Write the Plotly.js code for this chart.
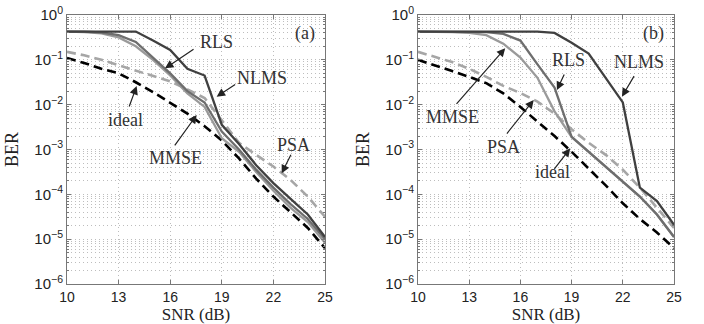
<!DOCTYPE html>
<html>
<head>
<meta charset="utf-8">
<script src="https://cdn.plot.ly/plotly-3.0.1.min.js"></script>
<style>html,body{margin:0;padding:0;background:#fff;}#chart{width:704px;height:324px;}</style>
</head>
<body>
<div id="chart"></div>
<script>
// ---- data ----
const snr = [10,11,12,13,14,15,16,17,18,19,20,21,22,23,24,25];
const xTicks = [10,13,16,19,22,25];
const yTickVals = [1e-6,1e-5,1e-4,1e-3,1e-2,1e-1,1];
const yTickText = ['10<sup>−6</sup>','10<sup>−5</sup>','10<sup>−4</sup>','10<sup>−3</sup>','10<sup>−2</sup>','10<sup>−1</sup>','10<sup>0</sup>'];

// panel (a)
const idealA = [0.110,0.0851,0.0631,0.0501,0.0316,0.0191,0.0110,0.00631,0.00331,0.00158,6.31e-4,2.24e-4,8.91e-5,3.98e-5,1.78e-5,6.31e-6];
const psaA   = [0.151,0.126,0.100,0.0759,0.0562,0.0437,0.0331,0.0219,0.0141,0.00447,0.00141,7.59e-4,4.17e-4,2.09e-4,8.91e-5,3.16e-5];
const mmseA  = [0.427,0.417,0.389,0.316,0.200,0.100,0.0447,0.0178,0.00891,0.00178,8.91e-4,3.16e-4,1.20e-4,5.01e-5,2.40e-5,8.32e-6];
const rlsA   = [0.427,0.427,0.407,0.355,0.251,0.112,0.0501,0.0200,0.0112,0.00251,0.001,3.55e-4,1.41e-4,6.03e-5,2.82e-5,1.0e-5];
const nlmsA  = [0.427,0.427,0.427,0.427,0.427,0.269,0.166,0.0631,0.0447,0.00355,0.00132,4.47e-4,1.78e-4,7.94e-5,3.55e-5,1.12e-5];

// panel (b)
const idealB = [0.100,0.0759,0.0562,0.0417,0.0302,0.0178,0.00891,0.00417,0.00200,8.91e-4,3.80e-4,1.58e-4,6.31e-5,2.82e-5,1.41e-5,6.31e-6];
const psaB   = [0.151,0.117,0.0891,0.0631,0.0417,0.0263,0.0182,0.0117,0.00631,0.00282,0.00141,7.59e-4,3.55e-4,1.41e-4,5.01e-5,1.78e-5];
const mmseB  = [0.427,0.427,0.417,0.398,0.355,0.229,0.112,0.0398,0.00708,0.00191,8.91e-4,4.27e-4,2.0e-4,8.91e-5,3.55e-5,1.12e-5];
const rlsB   = [0.427,0.427,0.427,0.427,0.417,0.380,0.269,0.0794,0.0240,0.00191,8.91e-4,4.27e-4,2.0e-4,8.91e-5,3.55e-5,1.12e-5];
const nlmsB  = [0.427,0.427,0.427,0.427,0.427,0.427,0.427,0.427,0.398,0.240,0.138,0.0398,0.0112,1.41e-4,7.08e-5,2.09e-5];

// label texts and arrow targets [SNR, BER]
const labelsA = ['RLS','NLMS','ideal','MMSE','PSA'];
const labelsB = ['RLS','NLMS','MMSE','PSA','ideal'];
const arrowTipsA = [[15.70,0.0646],[18.70,0.0151],[14.05,0.0260],[17.54,0.00589],[22.48,2.95e-4]];
const arrowTipsB = [[18.14,0.0212],[21.95,0.0151],[15.11,0.181],[16.78,0.0127],[18.92,0.00106]];

// ---- styles ----
const W = 704, H = 324;
const serif = 'Liberation Serif, DejaVu Serif, serif';
const sans = 'Liberation Sans, Arial, sans-serif';
const st = {
  nlms: {color:'#404040', width:2.3},
  rls:  {color:'#6e6e6e', width:2.3},
  mmse: {color:'#9a9a9a', width:2.3},
  psa:  {color:'#a6a6a6', width:2.6, dash:'9px,5px'},
  ideal:{color:'#000000', width:2.6, dash:'9px,5px'}
};
function tr(y, s, xa, ya){ return {x:snr, y:y, xaxis:xa, yaxis:ya, type:'scatter', mode:'lines', line:st[s], hoverinfo:'skip'}; }

const data = [
  tr(idealA,'ideal','x','y'), tr(psaA,'psa','x','y'), tr(mmseA,'mmse','x','y'), tr(rlsA,'rls','x','y'), tr(nlmsA,'nlms','x','y'),
  tr(idealB,'ideal','x2','y2'), tr(psaB,'psa','x2','y2'), tr(mmseB,'mmse','x2','y2'), tr(rlsB,'rls','x2','y2'), tr(nlmsB,'nlms','x2','y2')
];

function px(x){ return x / W; }
function py(y){ return 1 - y / H; }

const gridC = '#bdbdbd';
const gdash = '1px,3px';
function xax(dom, anchor){
  return {domain:dom, anchor:anchor, range:[10,25], tickvals:xTicks, ticks:'inside', ticklen:4, tickcolor:'#777',
    showline:true, mirror:'ticks', linecolor:'#777', linewidth:1, showgrid:true, gridcolor:gridC, griddash:gdash, gridwidth:1,
    zeroline:false, tickfont:{family:sans, size:14, color:'#222'},
    title:{text:'SNR (dB)', font:{family:serif, size:17, color:'#222'}, standoff:6}};
}
function yax(anchor){
  return {domain:[py(284), py(15)], anchor:anchor, type:'log', range:[-6,0], tickvals:yTickVals, ticktext:yTickText,
    ticks:'inside', ticklen:4, tickcolor:'#777', showline:true, mirror:'ticks', linecolor:'#777', linewidth:1,
    showgrid:true, gridcolor:gridC, griddash:gdash, gridwidth:1, zeroline:false,
    minor:{dtick:'D1', showgrid:true, gridcolor:gridC, griddash:gdash, gridwidth:1, ticks:'inside', ticklen:2, tickcolor:'#777'},
    tickfont:{family:sans, size:15, color:'#222'},
    title:{text:'BER', font:{family:serif, size:18, color:'#222'}, standoff:11}};
}

const annotations = [];
const textPosA = [[216.7,41.7],[261.7,78.3],[125,120],[175,158.3],[293.3,145]];
const tailA = [[30,-20],[20,-13],[-8,22],[-23,32],[10,-20]];
const textPosB = [[568.7,60],[638.7,61.7],[452,116.7],[503.7,146.7],[552,171.7]];
const tailB = [[8,-17],[13,-22],[-50,57],[-28,35],[-17,22]];
const tfont = {family:serif, size:18, color:'#333'};
function addLabel(t, p){
  annotations.push({text:t, xref:'paper', yref:'paper', x:px(p[0]), y:py(p[1]), xanchor:'center', yanchor:'middle', showarrow:false, font:tfont});
}
function addArrow(xr, yr, tip, tail){
  annotations.push({text:'', xref:xr, yref:yr, x:tip[0], y:Math.log10(tip[1]), ax:tail[0], ay:tail[1],
    showarrow:true, arrowhead:2, arrowsize:1.4, arrowwidth:1.2, arrowcolor:'#222'});
}
labelsA.forEach((t,i)=>{ addLabel(t, textPosA[i]); addArrow('x','y', arrowTipsA[i], tailA[i]); });
labelsB.forEach((t,i)=>{ addLabel(t, textPosB[i]); addArrow('x2','y2', arrowTipsB[i], tailB[i]); });
addLabel('(a)', [305,33.3]);
addLabel('(b)', [653.7,33.3]);

const layout = {
  width:W, height:H, margin:{l:0,r:0,t:0,b:0}, showlegend:false,
  paper_bgcolor:'#fff', plot_bgcolor:'#fff',
  xaxis: xax([px(67), px(325)], 'y'),
  yaxis: yax('x'),
  xaxis2: xax([px(418), px(674)], 'y2'),
  yaxis2: yax('x2'),
  annotations: annotations
};
Plotly.newPlot('chart', data, layout, {staticPlot:true, displayModeBar:false});
</script>
</body>
</html>
